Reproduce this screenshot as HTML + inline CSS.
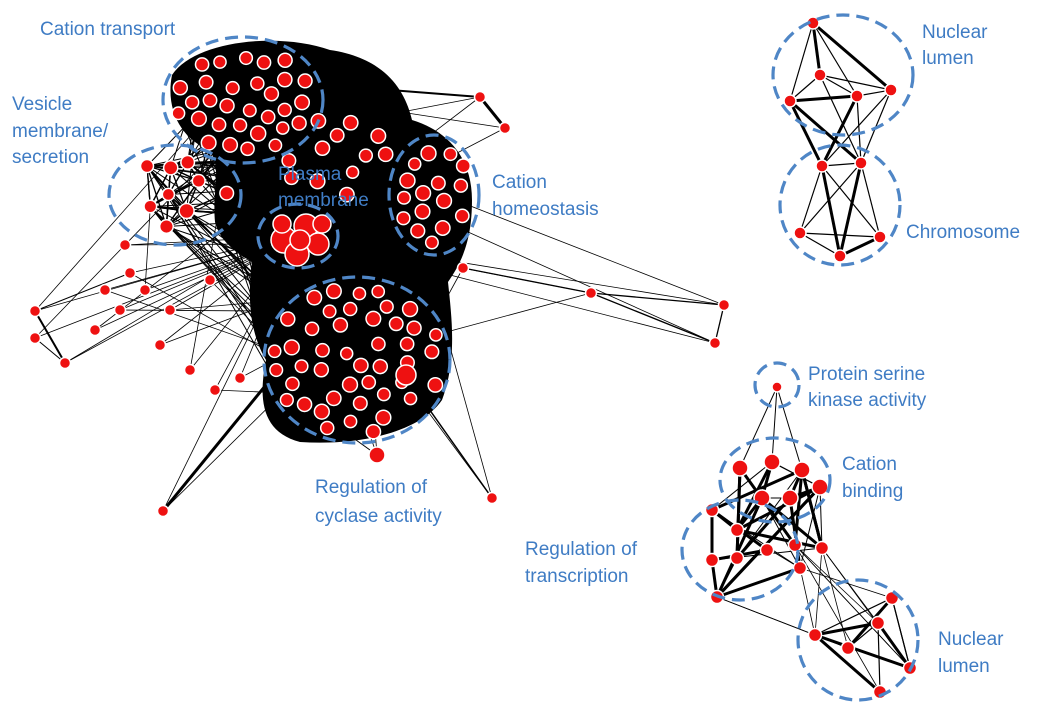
<!DOCTYPE html>
<html><head><meta charset="utf-8"><style>
html,body{margin:0;padding:0;background:#fff;}
svg{display:block}
text{font-family:"Liberation Sans",Arial,sans-serif;font-size:19px;fill:#3f7cc4;}
</style></head><body>
<svg id="s" width="1063" height="719" viewBox="0 0 1063 719" xmlns="http://www.w3.org/2000/svg">
<g id="edges" stroke="#000" fill="none"></g>
<path d="M172,75 C195,40 280,32 330,50 C385,58 405,90 412,120 C445,130 472,155 472,200 C472,240 462,262 448,282 C452,320 457,360 442,400 C420,432 360,446 300,442 C262,432 258,400 266,360 C248,330 248,292 252,262 C232,250 220,240 215,222 C212,190 222,168 210,150 C182,140 165,110 172,75Z" fill="#000"/>
<g id="nodes" fill="#ee1111" stroke="#fff" stroke-width="1.5"></g>
<g fill="none" stroke="#4f86c6" stroke-width="3.2" stroke-dasharray="13,7">
<ellipse cx="243" cy="100" rx="80" ry="63"/>
<ellipse cx="175" cy="195" rx="66" ry="50"/>
<ellipse cx="298" cy="236" rx="40" ry="32"/>
<ellipse cx="434" cy="195" rx="45" ry="60"/>
<ellipse cx="357" cy="360" rx="93" ry="83"/>
<ellipse cx="843" cy="75" rx="70" ry="60"/>
<ellipse cx="840" cy="205" rx="60" ry="60"/>
<circle cx="777" cy="385" r="22"/>
<ellipse cx="775" cy="480" rx="55" ry="42"/>
<ellipse cx="740" cy="550" rx="58" ry="50"/>
<ellipse cx="858" cy="640" rx="60" ry="60"/>
</g>
<g>
<text x="40" y="35">Cation transport</text>
<text x="12" y="110">Vesicle</text>
<text x="12" y="137">membrane/</text>
<text x="12" y="163">secretion</text>
<text x="278" y="180">Plasma</text>
<text x="278" y="206">membrane</text>
<text x="492" y="188">Cation</text>
<text x="492" y="215">homeostasis</text>
<text x="315" y="493">Regulation of</text>
<text x="315" y="522">cyclase activity</text>
<text x="922" y="38">Nuclear</text>
<text x="922" y="64">lumen</text>
<text x="906" y="238">Chromosome</text>
<text x="808" y="380">Protein serine</text>
<text x="808" y="406">kinase activity</text>
<text x="842" y="470">Cation</text>
<text x="842" y="497">binding</text>
<text x="525" y="555">Regulation of</text>
<text x="525" y="582">transcription</text>
<text x="938" y="645">Nuclear</text>
<text x="938" y="672">lumen</text>
</g>
</svg>
<script>
(function(){
var seed=7;function r(){seed=(seed*9301+49297)%233280;return seed/233280;}
var E=document.getElementById('edges'),N=document.getElementById('nodes');
var ns='http://www.w3.org/2000/svg';
function line(a,b,w){var l=document.createElementNS(ns,'line');l.setAttribute('x1',a[0]);l.setAttribute('y1',a[1]);l.setAttribute('x2',b[0]);l.setAttribute('y2',b[1]);l.setAttribute('stroke-width',w);E.appendChild(l);}
function node(p,rad){var c=document.createElementNS(ns,'circle');c.setAttribute('cx',p[0]);c.setAttribute('cy',p[1]);c.setAttribute('r',rad);N.appendChild(c);}
var main=[];
function ok(p,md){for(var i=0;i<main.length;i++){var dx=main[i][0]-p[0],dy=main[i][1]-p[1];if(dx*dx+dy*dy<md*md)return false;}if(Math.abs(p[0]-298)<38&&Math.abs(p[1]-236)<30)return false;return true;}
function cluster(cx,cy,rx,ry,n){var c=0,t=0;while(c<n&&t<3000){t++;var a=r()*6.283,d=Math.sqrt(r());var p=[cx+Math.cos(a)*rx*d,cy+Math.sin(a)*ry*d];if(ok(p,17)){main.push(p);c++;}}}
cluster(243,100,68,52,34);cluster(434,195,36,52,16);cluster(357,360,84,74,44);cluster(175,195,55,40,9);cluster(330,160,60,50,12);
var outl=[[480,97],[505,128],[463,268],[591,293],[724,305],[715,343],[377,455],[492,498],[163,511],[35,311],[65,363],[35,338],[130,273],[145,290],[160,345],[215,390],[240,378],[190,370],[105,290],[120,310],[95,330],[170,310],[210,280],[125,245]];
for(var i=0;i<main.length;i++){var ds=main.map(function(q,j){return [(q[0]-main[i][0])**2+(q[1]-main[i][1])**2,j];}).sort(function(a,b){return a[0]-b[0];});
for(var k=1;k<7;k++)line(main[i],main[ds[k][1]],1.3);
for(var k=0;k<4;k++)line(main[i],main[Math.floor(r()*main.length)],1);}
var hub=[298,236];
for(var i=0;i<outl.length;i++){line(outl[i],hub,0.8);line(outl[i],main[Math.floor(r()*main.length)],0.8);}
line([480,97],[505,128],3);line([480,97],[390,90],2);line([463,268],[591,293],1.3);line([591,293],[724,305],1.3);line([591,293],[715,343],1.3);line([724,305],[715,343],1.3);
line([35,311],[65,363],2);line([35,338],[65,363],1);line([35,311],[130,273],1);line([163,511],[270,380],3);line([377,455],[300,400],1);line([492,498],[405,375],1.5);
for(var i=0;i<main.length;i++)node(main[i],6+r()*1.5);
for(var i=0;i<outl.length;i++)node(outl[i],5.5);
node([406,375],10);node([377,455],8);
node([284,240],13);node([306,226],12);node([318,244],11);node([297,254],12);node([322,224],9);node([282,224],9);node([300,240],10);
var A=[[813,23],[820,75],[790,101],[857,96],[891,90],[822,166],[861,163],[800,233],[840,256],[880,237]];
var pr=[[0,1],[0,2],[0,3],[0,4],[1,2],[1,3],[2,3],[3,4],[1,4],[2,5],[3,6],[4,6],[2,6],[5,6],[5,7],[5,8],[5,9],[6,7],[6,8],[6,9],[7,8],[8,9],[7,9],[4,5],[3,5],[1,6]];
pr.forEach(function(p,k){line(A[p[0]],A[p[1]],k%3?1.2:3);});
A.forEach(function(p){node(p,6);});
var B=[[777,387],[740,468],[772,462],[802,470],[762,498],[790,498],[820,487],[712,510],[737,530],[767,550],[795,545],[822,548],[712,560],[737,558],[717,597],[800,568],[815,635],[848,648],[878,623],[892,598],[910,668],[880,692]];
for(var i=1;i<16;i++)for(var k=0;k<4;k++){var j=1+Math.floor(r()*15);line(B[i],B[j],k%2?3:1);}
for(var i=16;i<22;i++)for(var k=0;k<3;k++){var j=16+Math.floor(r()*6);line(B[i],B[j],k==0?3:1.2);}
for(var k=0;k<12;k++){line(B[10+Math.floor(r()*6)],B[16+Math.floor(r()*6)],0.8);}
line(B[0],B[2],1);line(B[0],B[1],1);line(B[0],B[3],1);
B.forEach(function(p,i){node(p,i<=0?5:(i>=1&&i<=6?8:6.5));});
})();
</script>
</body></html>
